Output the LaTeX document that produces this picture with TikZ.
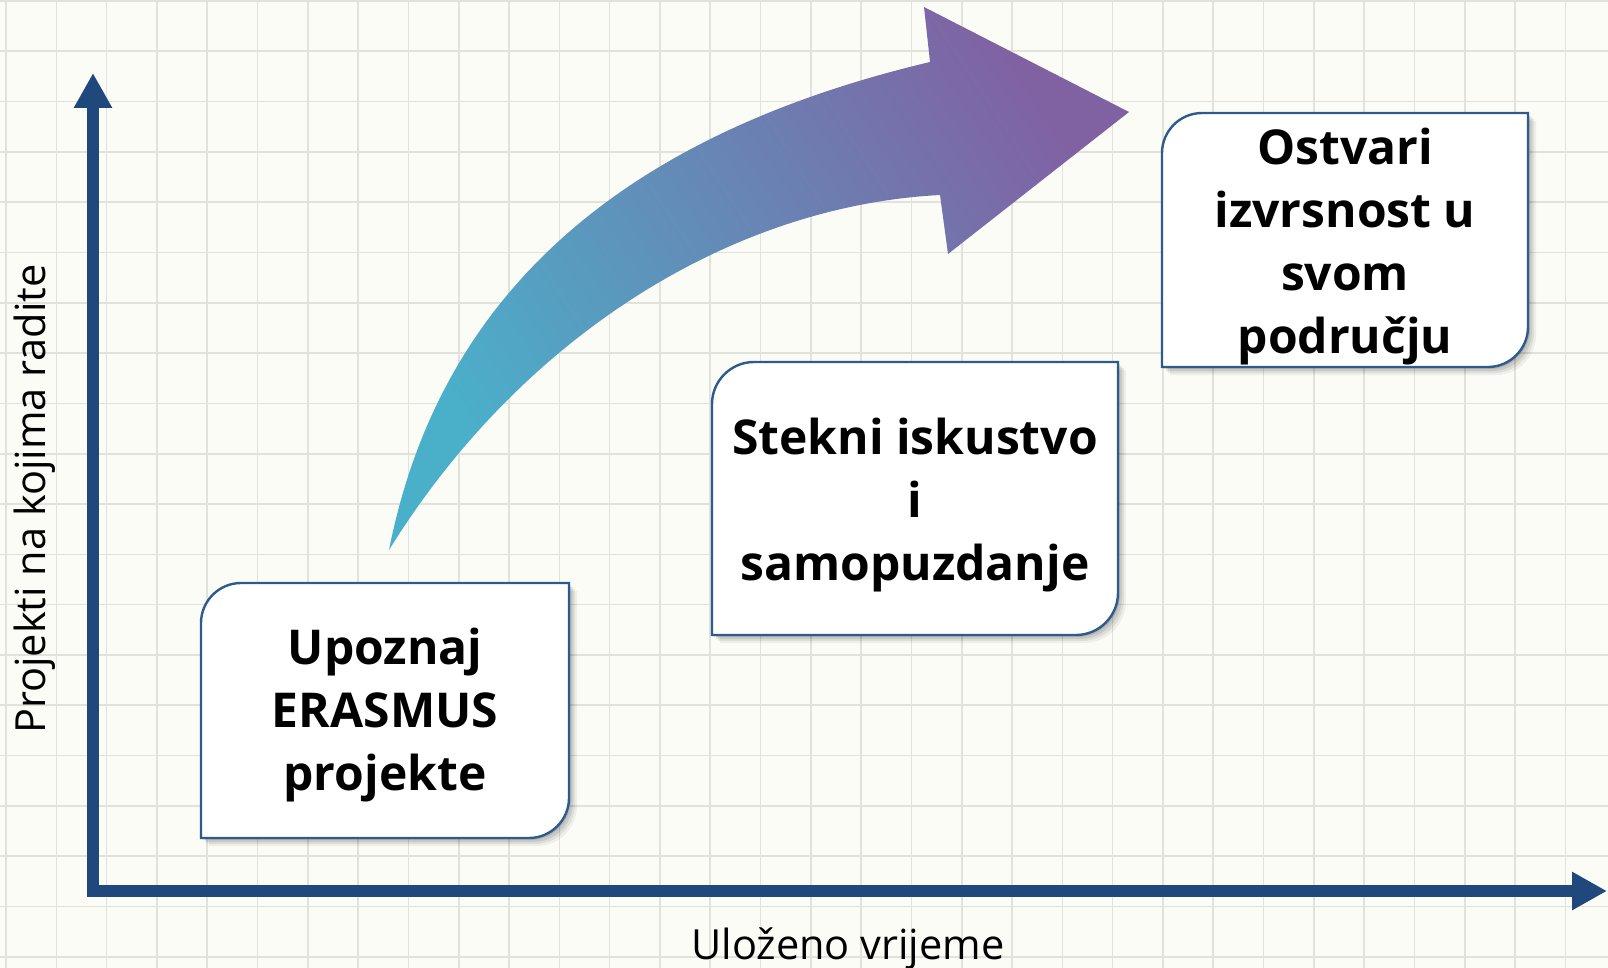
\documentclass[tikz,border=0pt]{standalone}
\usepackage{fontspec}
\setmainfont{Open Sans}
\usetikzlibrary{arrows.meta}
\definecolor{bgc}{HTML}{FCFCF7}
\definecolor{gridc}{HTML}{E2E2DC}
\definecolor{axisc}{HTML}{1F497D}
\definecolor{boxc}{HTML}{2D5B8E}
\definecolor{tealc}{HTML}{4AB0CA}
\definecolor{purpc}{HTML}{8062A3}
\newcommand{\stepbox}[5]{%
  \foreach \o/\op in {8/0.05,6/0.07,4/0.09,2/0.10}{%
    \fill[black,opacity=\op,xshift=\o pt,yshift=-\o pt]
      ({#1},{#2+#5}) .. controls ({#1},{#2+0.45*#5}) and ({#1+0.45*#5},{#2}) .. ({#1+#5},{#2})
      -- ({#3},{#2}) -- ({#3},{#4-#5})
      .. controls ({#3},{#4-0.45*#5}) and ({#3-0.45*#5},{#4}) .. ({#3-#5},{#4})
      -- ({#1},{#4}) -- cycle;}
  \path[boxshape]
      ({#1},{#2+#5}) .. controls ({#1},{#2+0.45*#5}) and ({#1+0.45*#5},{#2}) .. ({#1+#5},{#2})
      -- ({#3},{#2}) -- ({#3},{#4-#5})
      .. controls ({#3},{#4-0.45*#5}) and ({#3-0.45*#5},{#4}) .. ({#3-#5},{#4})
      -- ({#1},{#4}) -- cycle;}
\begin{document}
\begin{tikzpicture}[x=1pt,y=-1pt,
  gridline/.style={draw=gridc, line width=1.6pt},
  axisline/.style={draw=axisc, line width=12pt, -{Triangle[length=35pt,width=36pt]}},
  boxshape/.style={fill=white, draw=boxc, line width=2.4pt},
  boxtext/.style={font=\fontsize{48}{63}\selectfont\bfseries, align=center, inner sep=0pt, anchor=base},
  axislabel/.style={font=\fontsize{41.5}{48}\selectfont, inner sep=0pt, anchor=base}]
\useasboundingbox (0,0) rectangle (1608,968);
\fill[bgc] (0,0) rectangle (1608,968);
\foreach \i in {0,...,31} \draw[gridline] ({6+50.3*\i},0) -- ({6+50.3*\i},968);
\foreach \j in {0,...,19} \draw[gridline] (0,{1+50.3*\j}) -- (1608,{1+50.3*\j});
% axes
\coordinate (ybot) at (93,897);
\coordinate (ytop) at (93,73);
\coordinate (xleft) at (87,891);
\coordinate (xright) at (1607,891);
\draw[axisline] (ybot) -- (ytop);
\draw[axisline] (xleft) -- (xright);
\node[axislabel] (xlab) at (848,959) {Uloženo vrijeme};
\node[axislabel, rotate=90] (ylab) at (45,499) {Projekti na kojima radite};
% curved arrow
\shade[top color=purpc, bottom color=tealc, shading angle=-57]
  (389,550) .. controls (439,297) and (618,136) .. (930,62)
  -- (924,7) -- (1129,112) -- (948,254) -- (940,195)
  .. controls (728,206) and (519,340) .. (389,550) -- cycle;
% boxes
\stepbox{201}{583}{569}{838}{40}
\stepbox{712}{362}{1118}{635}{42}
\stepbox{1162}{113}{1528}{367}{40}
\node[boxtext] (b1) at (385,790) {Upoznaj\\ERASMUS\\projekte};
\node[boxtext] (b2) at (915,580) {Stekni iskustvo\\i\\samopuzdanje};
\node[boxtext] (b3) at (1345,353) {Ostvari\\izvrsnost u\\svom\\području};
\end{tikzpicture}
\end{document}
